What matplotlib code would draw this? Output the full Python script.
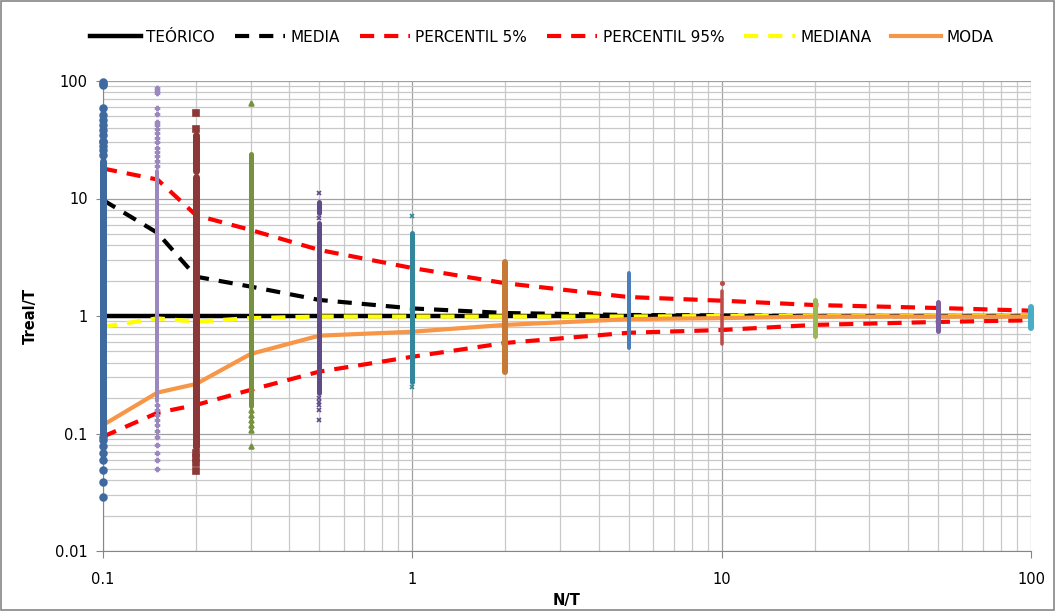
import matplotlib
matplotlib.use("Agg")
import matplotlib.pyplot as plt
from matplotlib.patches import Rectangle
from matplotlib.ticker import LogLocator, NullFormatter, FixedFormatter, FixedLocator

plt.rcParams['font.family'] = ['DejaVu Sans']

# summary curves
x_lines = [0.1, 0.15, 0.2, 0.3, 0.5, 1, 2, 5, 10, 20, 50, 100]
teorico = [1, 1, 1, 1, 1, 1, 1, 1, 1, 1, 1, 1]
media = [9.7, 5.1, 2.16, 1.78, 1.37, 1.16, 1.06, 1.02, 1.01, 1.0, 1.0, 1.0]
perc5 = [0.094, 0.15, 0.175, 0.235, 0.336, 0.45, 0.59, 0.72, 0.76, 0.84, 0.89, 0.92]
perc95 = [18, 14.5, 7.2, 5.4, 3.65, 2.56, 1.9, 1.45, 1.35, 1.24, 1.17, 1.11]
mediana = [0.81, 0.955, 0.895, 0.96, 0.99, 0.99, 0.99, 0.99, 1.0, 1.0, 1.0, 1.0]
moda = [0.118, 0.223, 0.264, 0.475, 0.68, 0.735, 0.84, 0.94, 0.96, 0.99, 0.99, 0.99]

# simulated samples per N/T: dense ranges + isolated points
col_x = [0.1, 0.15, 0.2, 0.3, 0.5, 1, 2, 5, 10, 20, 50, 100]
col_segments = [
    [(0.1, 21)],
    [(0.19, 17)],
    [(0.077, 15.3), (17, 34.5)],
    [(0.17, 6.5), (6.5, 24)],
    [(0.22, 6.2), (7.5, 9.4)],
    [(0.276, 5.05)],
    [(0.336, 2.9)],
    [(0.53, 2.34)],
    [(0.578, 1.64)],
    [(0.675, 1.37)],
    [(0.745, 1.31)],
    [(0.79, 1.19)],
]
col_points = [
    [98, 95, 92, 59, 51, 47, 42, 38, 35, 31, 30, 28, 26, 23.5,
     0.094, 0.088, 0.079, 0.068, 0.059, 0.049, 0.039, 0.029],
    [87.5, 82, 78.5, 59, 52.5, 45, 42, 39, 36, 33, 30, 27, 25, 23, 21, 19,
     0.175, 0.158, 0.144, 0.13, 0.118, 0.104, 0.094, 0.08, 0.068, 0.059, 0.05],
    [53, 39, 0.068, 0.0615, 0.056, 0.048],
    [64.5, 0.158, 0.144, 0.13, 0.118, 0.107, 0.078],
    [11.2, 6.8, 0.2, 0.186, 0.175, 0.158, 0.13],
    [7.1, 0.25],
    [],
    [],
    [1.9],
    [],
    [],
    [],
]
col_colors = ['#3E6A9F', '#9B88BE', '#8C3836', '#76923C', '#5E4B8A', '#32879D',
              '#C77A35', '#4A7EBB', '#BE4B48', '#98B954', '#7D60A0', '#4BACC6']
col_markers = ['o', 'P', 's', '^', 'x', 'x', 'o', 'o', 'o', 'o', 'o', 's']
col_width = [7, 4, 7, 5, 5, 5, 6, 4, 3.5, 5, 5, 6]

fig = plt.figure(figsize=(10.56, 6.11), dpi=100)
ax = fig.add_axes([103 / 1056, 1 - 551 / 611, 928 / 1056, 470 / 611])
ax.set_xscale('log')
ax.set_yscale('log')
ax.set_xlim(0.1, 100)
ax.set_ylim(0.01, 100)

# grid
ax.grid(True, which='minor', color='#c8c8c8', lw=0.9, zorder=0)
ax.grid(True, which='major', color='#a0a0a0', lw=0.9, zorder=0)
ax.xaxis.set_minor_locator(LogLocator(base=10, subs=range(2, 10)))
ax.yaxis.set_minor_locator(LogLocator(base=10, subs=range(2, 10)))
ax.xaxis.set_minor_formatter(NullFormatter())
ax.yaxis.set_minor_formatter(NullFormatter())
ticks = [0.01, 0.1, 1, 10, 100]
ax.yaxis.set_major_locator(FixedLocator(ticks))
ax.yaxis.set_major_formatter(FixedFormatter(['0.01', '0.1', '1', '10', '100']))
xticks = [0.1, 1, 10, 100]
ax.xaxis.set_major_locator(FixedLocator(xticks))
ax.xaxis.set_major_formatter(FixedFormatter(['0.1', '1', '10', '100']))
ax.tick_params(which='major', length=5, color='#868686', labelsize=10.5)
ax.tick_params(axis='x', which='major', pad=10)
ax.tick_params(axis='y', which='major', pad=6)
ax.tick_params(which='minor', length=0)
ax.set_axisbelow(True)
for side in ['top', 'right']:
    ax.spines[side].set_visible(False)
for side in ['left', 'bottom']:
    ax.spines[side].set_color('#868686')

ax.set_xlabel('N/T', fontsize=10.5, fontweight='bold', va='center')
ax.set_ylabel('Treal/T', fontsize=10.5, fontweight='bold', va='center')
ax.xaxis.set_label_coords(0.5, (551 - 601) / 470)
ax.yaxis.set_label_coords((30 - 103) / 928, 0.5)

dash = (3.4, 2.4)
l1, = ax.plot(x_lines, teorico, color='black', lw=3.2, label='TEÓRICO', zorder=3)
l2, = ax.plot(x_lines, media, color='black', lw=3, dashes=dash, label='MEDIA', zorder=3)
l3, = ax.plot(x_lines, perc5, color='#FF0000', lw=3, dashes=dash, label='PERCENTIL 5%', zorder=3)
l4, = ax.plot(x_lines, perc95, color='#FF0000', lw=3, dashes=dash, label='PERCENTIL 95%', zorder=3)
l5, = ax.plot(x_lines, mediana, color='#FFFF00', lw=3, dashes=dash, label='MEDIANA', zorder=3)
l6, = ax.plot(x_lines, moda, color='#F79646', lw=3, label='MODA', zorder=3)

for i, x in enumerate(col_x):
    w = col_width[i] * 0.72
    for lo, hi in col_segments[i]:
        ax.plot([x, x], [lo, hi], color=col_colors[i], lw=w,
                solid_capstyle='round', zorder=4, clip_on=False)
    if col_points[i]:
        ax.plot([x] * len(col_points[i]), col_points[i], ls='none',
                marker=col_markers[i], ms=col_width[i] * 0.7,
                color=col_colors[i], mew=1.2, zorder=4, clip_on=False)

fig.legend(handles=[l1, l2, l3, l4, l5, l6], loc='center',
           bbox_to_anchor=(542 / 1056, 1 - 37 / 611), ncol=6, frameon=False,
           fontsize=11, handlelength=3.3, handletextpad=0.35, columnspacing=1.3)

fig.patches.append(Rectangle((0.001, 0.001), 0.997, 0.997, transform=fig.transFigure,
                             fill=False, edgecolor='#868686', lw=1.2))

fig.savefig('out.png', dpi=100)
